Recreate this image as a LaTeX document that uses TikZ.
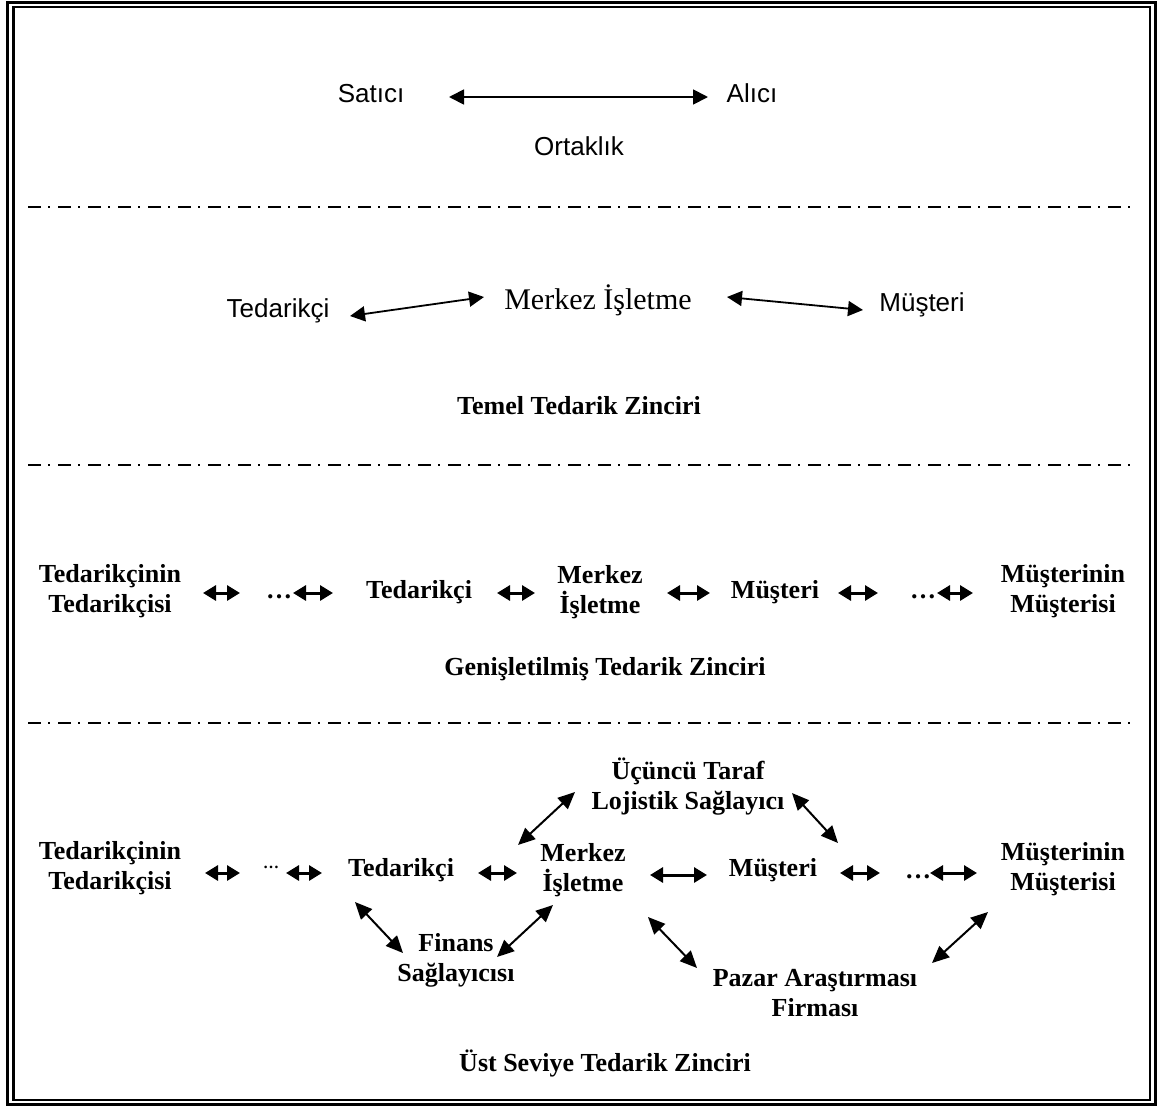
\documentclass[tikz,border=0pt]{standalone}
\usepackage{fontspec}
\setmainfont{Liberation Serif}
\newfontfamily\arialf{Liberation Sans}
\usetikzlibrary{arrows.meta}
\begin{document}
\begin{tikzpicture}[x=1pt,y=-1pt,
  sanslbl/.style={font=\arialf\fontsize{26}{30}\selectfont, inner sep=0pt, anchor=base},
  romlbl/.style={font=\fontsize{30}{34}\selectfont, inner sep=0pt, anchor=base},
  boldlbl/.style={font=\bfseries\fontsize{26}{30}\selectfont, inner sep=0pt, align=center},
  caplbl/.style={font=\bfseries\fontsize{26}{30}\selectfont, inner sep=0pt, anchor=base},
  dotslbl/.style={font=\bfseries\fontsize{26}{30}\selectfont, inner sep=0pt, anchor=base},
  longarrow/.style={line width=1.8pt, {Triangle[length=15pt,width=15pt]}-{Triangle[length=15pt,width=15pt]}},
  shortarrow/.style={line width=3pt, {Triangle[length=13pt,width=15pt]}-{Triangle[length=13pt,width=15pt]}},
  diagarrow/.style={line width=2pt, {Triangle[length=17pt,width=15pt]}-{Triangle[length=17pt,width=15pt]}},
  sepline/.style={line width=1.5pt, dash pattern=on 13pt off 7pt on 2pt off 8pt}
]
\useasboundingbox (0,0) rectangle (1168,1106);
% frame
\draw[line width=2.5pt] (7.5,2.5) rectangle (1155.5,1104.5);
\draw[line width=2.5pt] (13.5,7) rectangle (1150,1100);
% separators
\draw[sepline] (28,207) -- (1135,207);
\draw[sepline] (28,465) -- (1135,465);
\draw[sepline] (28,723) -- (1135,723);

% ---------- section 1
\node[sanslbl] (sat) at (371,102) {Satıcı};
\node[sanslbl] (ali) at (752,102) {Alıcı};
\node[sanslbl] (ort) at (579,155) {Ortaklık};
\coordinate (a1s) at (449,97);
\coordinate (a1e) at (708,97);
\draw[longarrow] (a1s) -- (a1e);

% ---------- section 2
\node[sanslbl] (ted2) at (278,317) {Tedarikçi};
\node[romlbl] (mer2) at (598,309) {Merkez İşletme};
\node[sanslbl] (mus2) at (922,311) {Müşteri};
\node[caplbl] (cap2) at (579,414) {Temel Tedarik Zinciri};
\coordinate (b1s) at (350,316);
\coordinate (b1e) at (484,297);
\coordinate (b2s) at (727,297);
\coordinate (b2e) at (863,310);
\draw[longarrow] (b1s) -- (b1e);
\draw[longarrow] (b2s) -- (b2e);

% ---------- section 3
\node[boldlbl] (tt3) at (110,591) {Tedarikçinin\\Tedarikçisi};
\node[dotslbl] (d3a) at (279,598) {…};
\node[boldlbl] (t3) at (419,592) {Tedarikçi};
\node[boldlbl] (m3) at (600,592) {Merkez\\İşletme};
\node[boldlbl] (mu3) at (775,592) {Müşteri};
\node[dotslbl] (d3b) at (923,598) {…};
\node[boldlbl] (mm3) at (1063,591) {Müşterinin\\Müşterisi};
\node[caplbl] (cap3) at (605,675) {Genişletilmiş Tedarik Zinciri};
\coordinate (c1s) at (203,593); \coordinate (c1e) at (240,593);
\coordinate (c2s) at (293,593); \coordinate (c2e) at (333,593);
\coordinate (c3s) at (497,593); \coordinate (c3e) at (535,593);
\coordinate (c4s) at (667,593); \coordinate (c4e) at (710,593);
\coordinate (c5s) at (838,593); \coordinate (c5e) at (878,593);
\coordinate (c6s) at (937,593); \coordinate (c6e) at (973,593);
\draw[shortarrow] (c1s) -- (c1e);
\draw[shortarrow] (c2s) -- (c2e);
\draw[shortarrow] (c3s) -- (c3e);
\draw[shortarrow] (c4s) -- (c4e);
\draw[shortarrow] (c5s) -- (c5e);
\draw[shortarrow] (c6s) -- (c6e);

% ---------- section 4
\node[boldlbl] (tt4) at (110,868) {Tedarikçinin\\Tedarikçisi};
\node[dotslbl, font=\bfseries\fontsize{16}{18}\selectfont] (d4a) at (271,868) {…};
\node[boldlbl] (t4) at (401,870) {Tedarikçi};
\node[boldlbl] (m4) at (583,870) {Merkez\\İşletme};
\node[boldlbl] (mu4) at (773,870) {Müşteri};
\node[dotslbl] (d4b) at (918,878) {…};
\node[boldlbl] (mm4) at (1063,869) {Müşterinin\\Müşterisi};
\node[boldlbl] (u4) at (688,787) {Üçüncü Taraf\\Lojistik Sağlayıcı};
\node[boldlbl] (f4) at (456,960) {Finans\\Sağlayıcısı};
\node[boldlbl] (p4) at (815,993) {Pazar Araştırması\\Firması};
\node[caplbl] (cap4) at (605,1071) {Üst Seviye Tedarik Zinciri};
\coordinate (e1s) at (205,873); \coordinate (e1e) at (240,873);
\coordinate (e2s) at (286,873); \coordinate (e2e) at (322,873);
\coordinate (e3s) at (478,873); \coordinate (e3e) at (517,873);
\coordinate (e4s) at (650,875); \coordinate (e4e) at (707,875);
\coordinate (e5s) at (840,873); \coordinate (e5e) at (880,873);
\coordinate (e6s) at (930,873); \coordinate (e6e) at (977,873);
\draw[shortarrow] (e1s) -- (e1e);
\draw[shortarrow] (e2s) -- (e2e);
\draw[shortarrow] (e3s) -- (e3e);
\draw[shortarrow] (e4s) -- (e4e);
\draw[shortarrow] (e5s) -- (e5e);
\draw[shortarrow] (e6s) -- (e6e);
\coordinate (g1s) at (355,902); \coordinate (g1e) at (403,953);
\coordinate (g2s) at (497,957); \coordinate (g2e) at (553,905);
\coordinate (g3s) at (518,845); \coordinate (g3e) at (575,792);
\coordinate (g4s) at (792,793); \coordinate (g4e) at (838,843);
\coordinate (g5s) at (648,917); \coordinate (g5e) at (697,968);
\coordinate (g6s) at (932,963); \coordinate (g6e) at (988,912);
\draw[diagarrow] (g1s) -- (g1e);
\draw[diagarrow] (g2s) -- (g2e);
\draw[diagarrow] (g3s) -- (g3e);
\draw[diagarrow] (g4s) -- (g4e);
\draw[diagarrow] (g5s) -- (g5e);
\draw[diagarrow] (g6s) -- (g6e);
\end{tikzpicture}
\end{document}
